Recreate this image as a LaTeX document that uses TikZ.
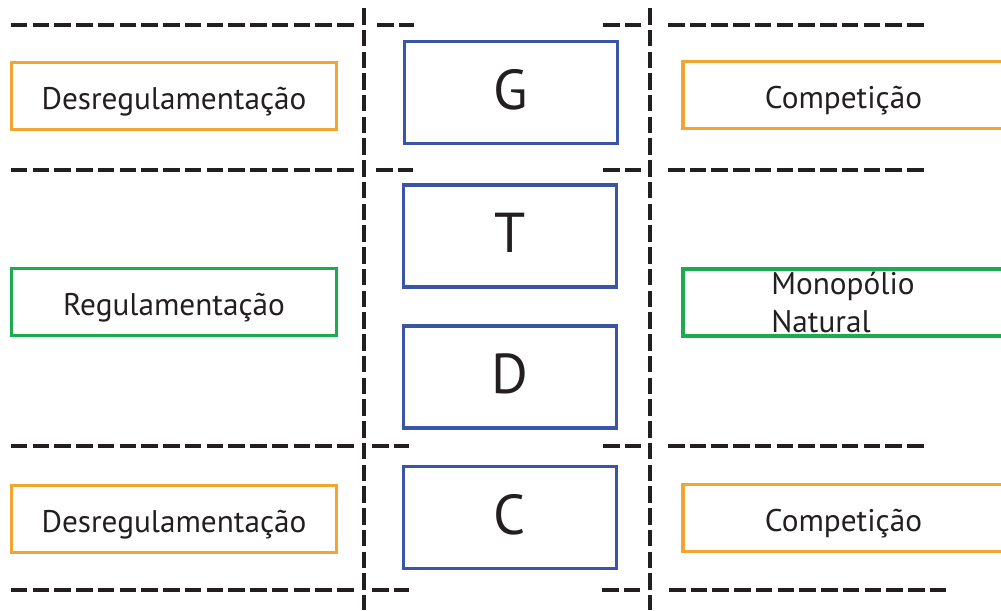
\documentclass[tikz,border=0pt]{standalone}
\usepackage{fontspec}
\setmainfont{PT Sans}
\usepackage{tikz}
\usetikzlibrary{positioning}
\definecolor{dereg}{RGB}{242,166,50}
\definecolor{reg}{RGB}{30,170,80}
\definecolor{seg}{RGB}{59,85,166}
\definecolor{ink}{RGB}{35,31,32}

\begin{document}
\begin{tikzpicture}[x=0.02cm, y=-0.02cm,
    policy/.style={draw, line width=1.9pt, minimum width=6.5cm, minimum height=1.34cm,
      text=ink, font=\fontsize{17.8}{21}\selectfont, text height=0.6cm, text depth=0.08cm},
    market/.style={policy, minimum width=6.42cm},
    chain/.style={draw=seg, line width=1.9pt, minimum width=4.26cm, minimum height=2.04cm,
      text=ink, font=\fontsize{32}{36}\selectfont, text height=0.7cm, text depth=0.04cm},
    border/.style={ink, line width=2pt, dash pattern=on 0.33cm off 0.105cm}]
      \useasboundingbox (0,0) rectangle (1001,610);

      % segments of the chain
      \node[chain] (G) at (511,92.5) {G};
      \node[chain] (T) at (510,236) {T};
      \node[chain] (D) at (510,377) {D};
      \node[chain] (C) at (510,517.5) {C};

      % policy on the left
      \node[policy, draw=dereg] (des_g) at (174,96) {Desregulamentação};
      \node[policy, draw=reg] (reg_td) at (174,302) {Regulamentação};
      \node[policy, draw=dereg] (des_c) at (174,519) {Desregulamentação};

      % market on the right
      \node[market, draw=dereg] (comp_g) at (843.5,95) {Competição};
      \node[market, draw=reg] (mono_td) at (843.5,302.5) {};
      \node[anchor=north west, align=left, inner sep=0pt, text=ink,
        font=\fontsize{17.8}{21.5}\selectfont] (mono_txt) at (771,272) {Monopólio\\Natural};
      \node[market, draw=dereg] (comp_c) at (843.5,518) {Competição};

      % vertical dividers
      \draw[border] (364,8) -- (364,610);
      \draw[border] (650,8) -- (650,610);

      % horizontal dividers
      \draw[border] (11,25) -- (357,25);
      \draw[border] (377,25) -- (414,25);
      \draw[border] (603,25) -- (643,25);
      \draw[border] (668,25) -- (925,25);

      \draw[border] (11,170) -- (357,170);
      \draw[border] (376,170) -- (413,170);
      \draw[border] (603,170) -- (642,170);
      \draw[border] (668,170) -- (925,170);

      \draw[border] (11,446) -- (357,446);
      \draw[border] (372,446) -- (409,446);
      \draw[border] (603,446) -- (642,446);
      \draw[border] (668,446) -- (925,446);

      \draw[border] (11,590) -- (357,590);
      \draw[border] (372,590) -- (409,590);
      \draw[border] (602,590) -- (642,590);
      \draw[border] (669,590) -- (946,590);
\end{tikzpicture}
\end{document}
